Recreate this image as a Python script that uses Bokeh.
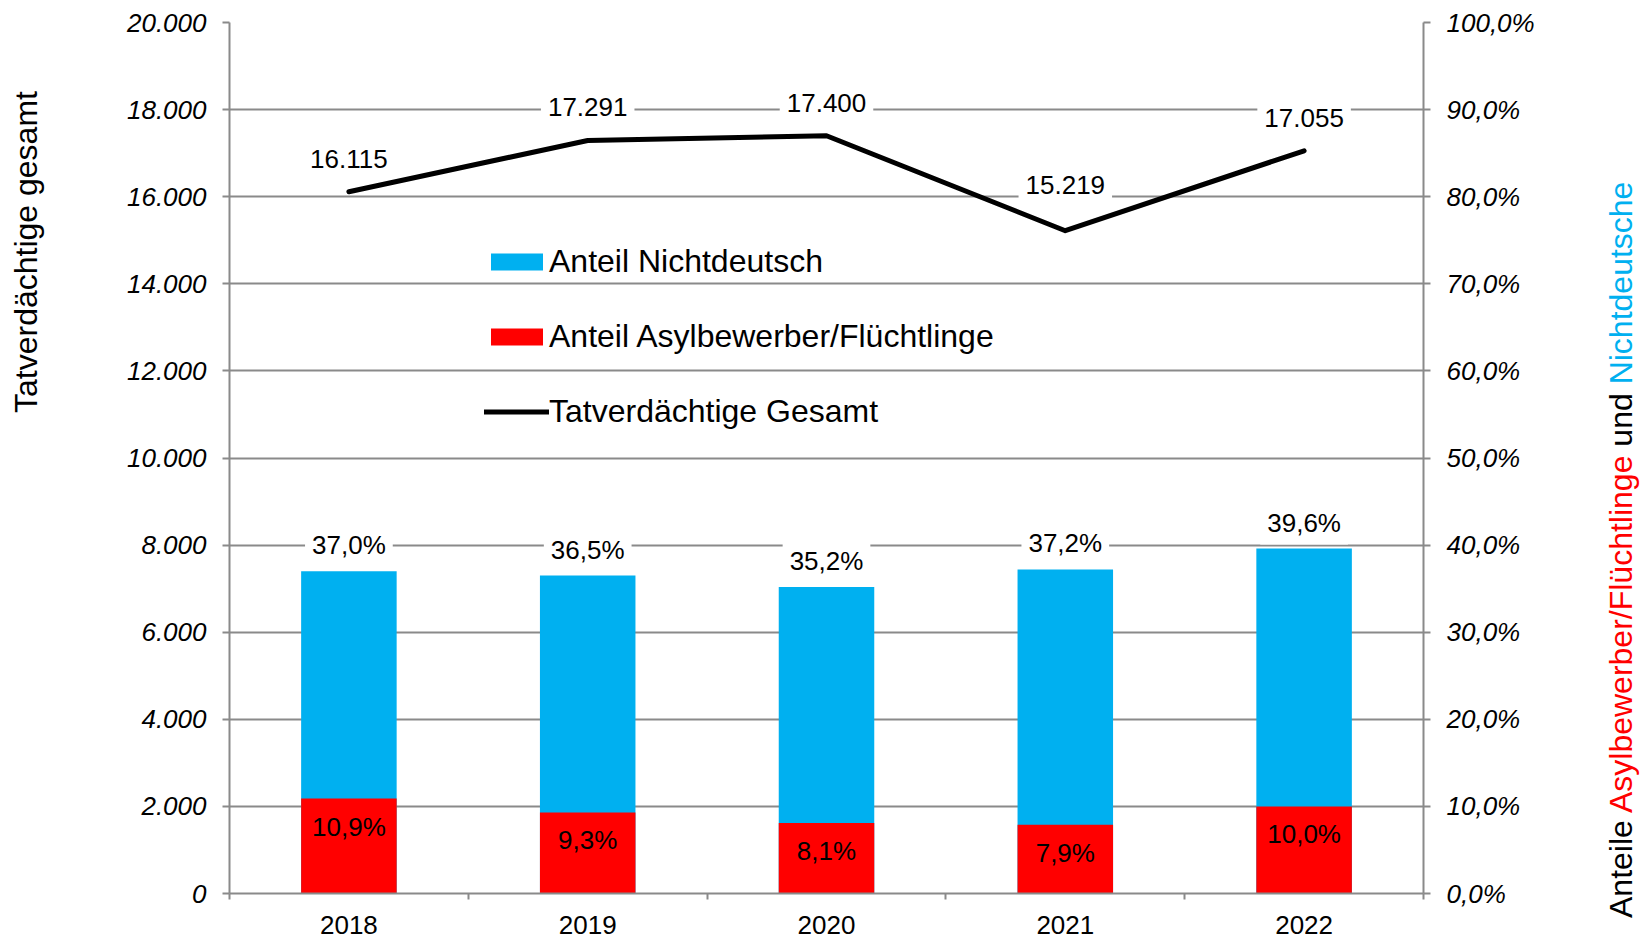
from bokeh.plotting import figure
from bokeh.layouts import row
from bokeh.models import (Range1d, LinearAxis, FixedTicker, Legend, LegendItem, Div)
from bokeh.embed import file_html
from bokeh.resources import INLINE
from bokeh.core.properties import value

# ---------------- data ----------------
years = ["2018", "2019", "2020", "2021", "2022"]
total_suspects = [16115, 17291, 17400, 15219, 17055]
share_nichtdeutsch = [37.0, 36.5, 35.2, 37.2, 39.6]
share_asyl = [10.9, 9.3, 8.1, 7.9, 10.0]
left_ticks = [0, 2000, 4000, 6000, 8000, 10000, 12000, 14000, 16000, 18000, 20000]
right_ticks = [0, 10, 20, 30, 40, 50, 60, 70, 80, 90, 100]

# ---------------- style / layout ----------------
FONT = "Liberation Sans"
GRAY = "#8a8a8a"
BLUE = "#00B0F0"
RED = "#FF0000"

H = 939
LW, MW, RW = 60, 1520, 60          # left title / main / right title widths
BL, BT = 229 - LW, 22               # frame left / top inside main figure
BR = (LW + MW) - 1423               # frame right at page x 1423
BB = H - 893                        # frame bottom at page y 893

# label offsets above the line points (pixels, style only)
total_label_offsets = [-33, -33, -33, -46, -33]

xs = [i + 0.5 for i in range(len(years))]
total_labels = [f"{v:,}".replace(",", ".") for v in total_suspects]
nd_labels = [f"{v:.1f}%".replace(".", ",") for v in share_nichtdeutsch]
asyl_labels = [f"{v:.1f}%".replace(".", ",") for v in share_asyl]

p = figure(width=MW, height=H, output_backend="svg", toolbar_location=None,
           x_range=Range1d(0, len(years)), y_range=Range1d(0, 20000),
           min_border_left=BL, min_border_right=BR, min_border_top=BT,
           min_border_bottom=BB)
p.extra_y_ranges = {"pct": Range1d(0, 100)}
p.outline_line_color = None
p.background_fill_color = "white"
p.border_fill_color = "white"

# grid
p.xgrid.visible = False
p.ygrid.ticker = FixedTicker(ticks=left_ticks)
p.ygrid.grid_line_color = GRAY
p.ygrid.grid_line_width = 2


def style_value_axis(ax, standoff):
    ax.axis_line_color = GRAY
    ax.axis_line_width = 2
    ax.major_tick_line_color = GRAY
    ax.major_tick_line_width = 2
    ax.major_tick_out = 7
    ax.major_tick_in = 0
    ax.minor_tick_out = 0
    ax.minor_tick_in = 0
    ax.major_label_standoff = standoff
    ax.major_label_text_font = FONT
    ax.major_label_text_font_size = "26px"
    ax.major_label_text_font_style = "italic"
    ax.major_label_text_color = "black"


# left axis
ya = p.yaxis[0]
ya.ticker = FixedTicker(ticks=left_ticks)
ya.major_label_overrides = {t: (f"{t:,}".replace(",", ".")) for t in left_ticks}
style_value_axis(ya, 16)

# right axis
ra = LinearAxis(y_range_name="pct", ticker=FixedTicker(ticks=right_ticks))
ra.major_label_overrides = {t: f"{t:.1f}%".replace(".", ",") for t in right_ticks}
style_value_axis(ra, 16)
p.add_layout(ra, "right")

# x axis
xa = p.xaxis[0]
xa.ticker = FixedTicker(ticks=xs, minor_ticks=list(range(len(years) + 1)))
xa.major_label_overrides = {x: y for x, y in zip(xs, years)}
xa.axis_line_color = GRAY
xa.axis_line_width = 2
xa.major_tick_out = 0
xa.major_tick_in = 0
xa.minor_tick_out = 6
xa.minor_tick_in = 0
xa.minor_tick_line_color = GRAY
xa.minor_tick_line_width = 2
xa.major_label_standoff = 16
xa.major_label_text_font = FONT
xa.major_label_text_font_size = "26px"
xa.major_label_text_color = "black"

# bars (overlapping, both on the percentage axis)
r_nd = p.vbar(x=xs, top=share_nichtdeutsch, width=0.4, y_range_name="pct",
              fill_color=BLUE, line_color=None)
r_asyl = p.vbar(x=xs, top=share_asyl, width=0.4, y_range_name="pct",
                fill_color=RED, line_color=None)

# line
r_line = p.line(x=xs, y=total_suspects, line_color="black", line_width=5,
                line_cap="round", line_join="round")

# data labels
p.text(x=xs, y=total_suspects, text=total_labels, text_align="center",
       text_baseline="middle", y_offset=total_label_offsets,
       text_font=value(FONT), text_font_size="26px", text_color="black",
       background_fill_color="white", padding=7)
p.text(x=xs, y=share_nichtdeutsch, text=nd_labels, y_range_name="pct",
       text_align="center", text_baseline="middle", y_offset=-26,
       text_font=value(FONT), text_font_size="26px", text_color="black",
       background_fill_color="white", padding=7)
p.text(x=xs, y=share_asyl, text=asyl_labels, y_range_name="pct",
       text_align="center", text_baseline="middle", y_offset=28,
       text_font=value(FONT), text_font_size="26px", text_color="black")

# legend
legend = Legend(items=[
    LegendItem(label="Anteil Nichtdeutsch", renderers=[r_nd]),
    LegendItem(label="Anteil Asylbewerber/Flüchtlinge", renderers=[r_asyl]),
    LegendItem(label="Tatverdächtige Gesamt", renderers=[r_line]),
], location=(255, 463), glyph_width=65, glyph_height=21,
    label_text_font=FONT, label_text_font_size="32px", label_text_color="black",
    label_standoff=0, spacing=38, padding=0, margin=0,
    border_line_color=None, background_fill_alpha=0)
p.add_layout(legend)


# ---------------- rotated axis titles (HTML text, rotated with CSS) ----------------
def vertical_title(width, html, left, bottom):
    # 'left' = x of the rotated line box, 'bottom' = page y where the text starts
    inner = (
        f'<div style="position:relative;width:{width}px;height:{H}px;overflow:hidden;">'
        f'<div style="position:absolute;left:{left}px;top:{bottom}px;'
        f'transform-origin:0 0;transform:rotate(-90deg);white-space:nowrap;'
        f'font-family:\'{FONT}\';font-size:32px;line-height:32px;color:black;">'
        f'{html}</div></div>'
    )
    return Div(text=inner, width=width, height=H, margin=(0, 0, 0, 0))


left_title = vertical_title(LW, "Tatverdächtige gesamt", 10, 413)

title_parts = ["Anteile", "Asylbewerber/Flüchtlinge", "und", "Nichtdeutsche"]
title_colors = ["black", RED, "black", BLUE]
right_html = " ".join(f'<span style="color:{c};">{t}</span>'
                      for t, c in zip(title_parts, title_colors))
right_title = vertical_title(RW, right_html, 25, 918)

layout = row(left_title, p, right_title, spacing=0)
open("out.html", "w").write(file_html(layout, INLINE))
